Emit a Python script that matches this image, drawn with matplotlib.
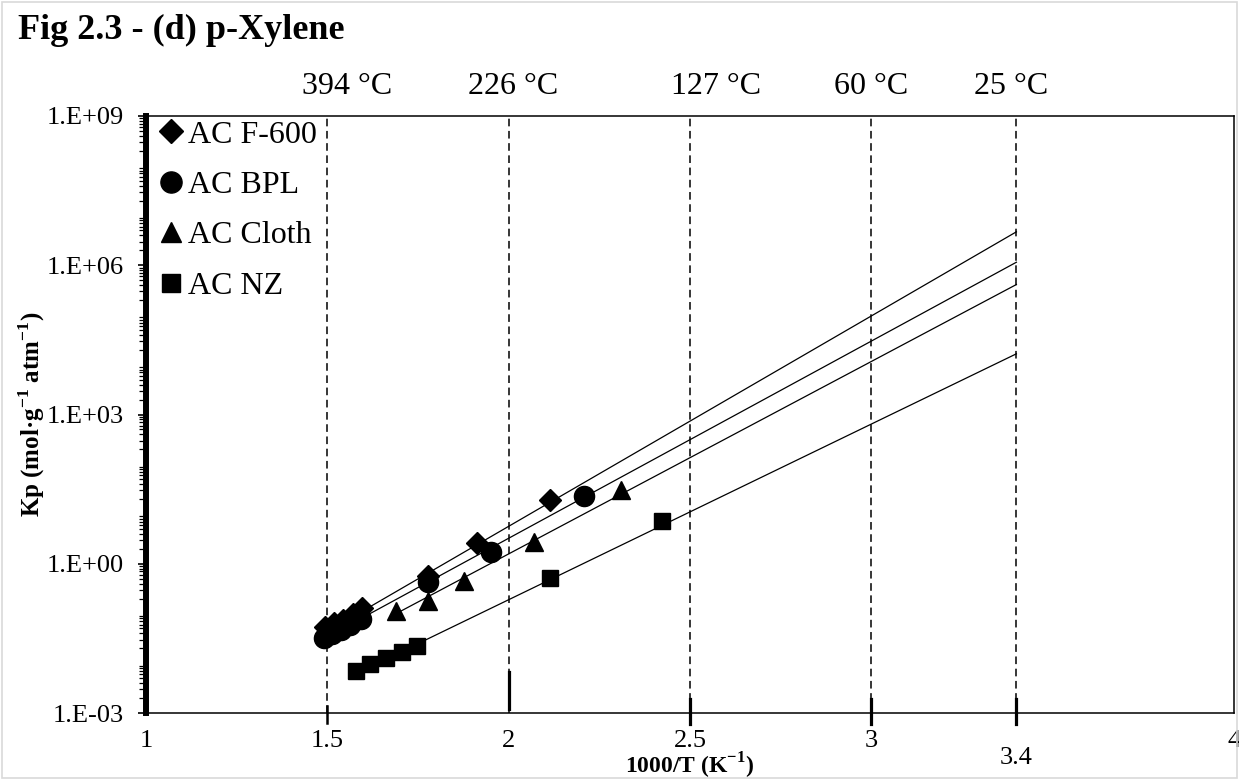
import numpy as np
import matplotlib
matplotlib.use("Agg")
import matplotlib.pyplot as plt
from matplotlib import ticker, transforms
from matplotlib.patches import Rectangle

plt.rcParams['font.family'] = ['Liberation Serif', 'DejaVu Serif']
plt.rcParams['mathtext.fontset'] = 'custom'
plt.rcParams['mathtext.rm'] = 'Liberation Serif'
plt.rcParams['mathtext.bf'] = 'Liberation Serif:bold'

# measured points, x = 1000/T (K^-1), y = Kp (mol g^-1 atm^-1)
f600_x = [1.494, 1.518, 1.543, 1.571, 1.595, 1.778, 1.912, 2.114]
f600_kp = [0.054, 0.063, 0.074, 0.098, 0.13, 0.58, 2.6, 19]
bpl_x = [1.490, 1.512, 1.537, 1.562, 1.592, 1.778, 1.950, 2.208]
bpl_kp = [0.032, 0.038, 0.047, 0.059, 0.078, 0.42, 1.7, 23]
cloth_x = [1.688, 1.778, 1.877, 2.071, 2.310]
cloth_kp = [0.11, 0.18, 0.46, 2.8, 30]
nz_x = [1.579, 1.619, 1.662, 1.705, 1.746, 2.114, 2.422]
nz_kp = [0.0071, 0.0095, 0.0126, 0.017, 0.0224, 0.51, 7.4]

# exponential trend lines (start and end of each fitted line)
f600_fit_x = [1.494, 3.4]
f600_fit_kp = [0.041, 4.7e6]
bpl_fit_x = [1.490, 3.4]
bpl_fit_kp = [0.031, 1.15e6]
cloth_fit_x = [1.688, 3.4]
cloth_fit_kp = [0.098, 4.1e5]
nz_fit_x = [1.746, 3.4]
nz_fit_kp = [0.024, 1.66e4]

# reference temperatures
temp_x = [1.5, 2.0, 2.5, 3.0, 3.4]
temp_labels = ['394 °C', '226 °C', '127 °C', '60 °C', '25 °C']

x_ticks = [1, 1.5, 2, 2.5, 3, 4]
x_tick_labels = ['1', '1.5', '2', '2.5', '3', '4']
y_ticks = [1e-3, 1e0, 1e3, 1e6, 1e9]
y_tick_labels = ['1.E-03', '1.E+00', '1.E+03', '1.E+06', '1.E+09']

W, H = 1239, 780
fig = plt.figure(figsize=(W / 100, H / 100), dpi=100)
fig.patches.append(Rectangle((2 / W, 2 / H), 1 - 4 / W, 1 - 4 / H, transform=fig.transFigure,
                             fill=False, edgecolor='#d9d9d9', lw=1.2))
ax = fig.add_axes([146 / W, 1 - 713 / H, (1234 - 146) / W, (713 - 116) / H])

ax.set_xlim(1, 4)
ax.set_yscale('log')
ax.set_ylim(1e-3, 1e9)
trans = transforms.blended_transform_factory(ax.transData, ax.transAxes)

# dashed temperature guides, labels sit a little off their lines as in the original
label_shift = [14, 3, 19, 0, -4]  # points
for x, lab, dx in zip(temp_x, temp_labels, label_shift):
    ax.axvline(x, color='black', lw=1.1, ls=(0, (5, 3)), zorder=1)
    ax.annotate(lab, (x, 1.05), xycoords=trans, xytext=(dx, 0), textcoords='offset points',
                ha='center', va='center', fontsize=23)

# heavy marks at the bottom of the guides
ax.plot([1.5, 1.5], [-0.016, 0.011], transform=trans, color='black', lw=1.8, clip_on=False)
ax.plot([2.0, 2.0], [0.006, 0.069], transform=trans, color='black', lw=2.3, clip_on=False)
for x in temp_x[2:]:
    ax.plot([x, x], [-0.018, 0.023], transform=trans, color='black', lw=2.3, clip_on=False)

fits = [(f600_fit_x, f600_fit_kp), (bpl_fit_x, bpl_fit_kp),
        (cloth_fit_x, cloth_fit_kp), (nz_fit_x, nz_fit_kp)]
for fx, fy in fits:
    ax.plot(fx, fy, color='black', lw=0.9, zorder=2)

ax.plot(f600_x, f600_kp, ls='none', marker='D', ms=11.5, color='black', label='AC F-600', zorder=3)
ax.plot(bpl_x, bpl_kp, ls='none', marker='o', ms=14.5, color='black', label='AC BPL', zorder=3)
ax.plot(cloth_x, cloth_kp, ls='none', marker='^', ms=13.5, color='black', label='AC Cloth', zorder=3)
ax.plot(nz_x, nz_kp, ls='none', marker='s', ms=12, color='black', label='AC NZ', zorder=3)

ax.legend(loc='upper left', bbox_to_anchor=(0.011, 0.993), frameon=False, fontsize=23,
          handlelength=0.8, handletextpad=0.15, labelspacing=0.66, borderpad=0,
          borderaxespad=0, markerscale=1.05)

ax.set_xticks(x_ticks)
ax.set_xticklabels(x_tick_labels)
ax.tick_params(axis='x', length=0, pad=12, labelsize=19)
ax.text(3.4, -0.076, '3.4', transform=trans, ha='center', va='center', fontsize=19)

ax.yaxis.set_major_locator(ticker.FixedLocator(y_ticks))
ax.yaxis.set_major_formatter(ticker.FixedFormatter(y_tick_labels))
ax.yaxis.set_minor_locator(ticker.LogLocator(base=10, subs=np.arange(2, 10), numticks=100))
ax.yaxis.set_minor_formatter(ticker.NullFormatter())
ax.tick_params(axis='y', which='major', direction='out', length=6, width=1.2, pad=10, labelsize=19)
ax.tick_params(axis='y', which='minor', direction='out', length=5, width=0.9)

ax.spines['left'].set_linewidth(4.3)
for s in ['top', 'right', 'bottom']:
    ax.spines[s].set_linewidth(1.1)

ax.set_xlabel(r'1000/T (K$^{\mathbf{-1}}$)', fontsize=17, fontweight='bold', va='center')
ax.xaxis.set_label_coords(0.5, -0.089)
ax.set_ylabel(r'Kp (mol·g$^{\mathbf{-1}}$ atm$^{\mathbf{-1}}$)', fontsize=18, fontweight='bold', va='center')
ax.yaxis.set_label_coords(-0.105, 0.5)

fig.text(18 / W, 1 - 30 / H, 'Fig 2.3 - (d) p-Xylene', fontsize=26, fontweight='bold', va='center', ha='left')

fig.savefig('out.png', dpi=100)
